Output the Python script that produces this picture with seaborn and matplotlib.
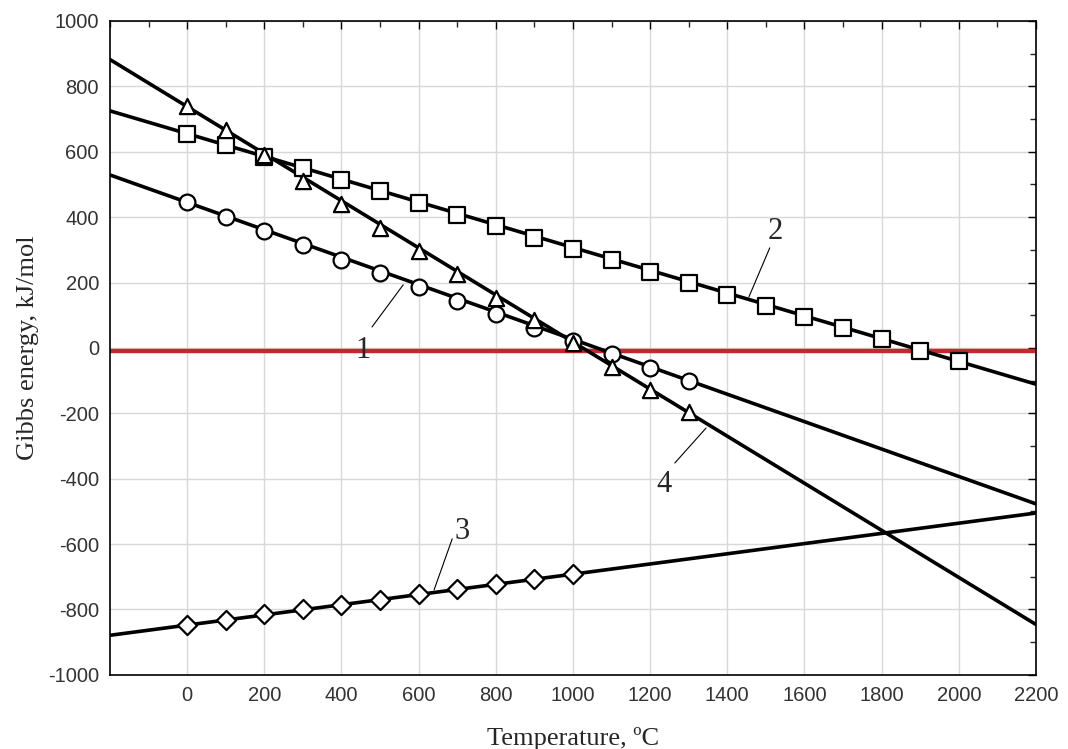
import numpy as np
import pandas as pd
import matplotlib
matplotlib.use("Agg")
import matplotlib.pyplot as plt
from matplotlib.ticker import MultipleLocator
import seaborn as sns

# marker points
t1 = [0, 100, 200, 300, 400, 500, 600, 700, 800, 900, 1000, 1100, 1200, 1300]
g1 = [445, 400, 357, 315, 270, 228, 185, 145, 103, 62, 22, -18, -62, -100]

t2 = [0, 100, 200, 300, 400, 500, 600, 700, 800, 900, 1000,
      1100, 1200, 1300, 1400, 1500, 1600, 1700, 1800, 1900, 2000]
g2 = [655, 620, 585, 550, 515, 480, 443, 408, 372, 337, 303,
      268, 233, 198, 163, 128, 95, 60, 27, -8, -40]

t3 = [0, 100, 200, 300, 400, 500, 600, 700, 800, 900, 1000]
g3 = [-848, -832, -815, -800, -785, -770, -753, -738, -722, -707, -692]

t4 = [0, 100, 200, 300, 400, 500, 600, 700, 800, 900, 1000, 1100, 1200, 1300]
g4 = [740, 665, 590, 510, 440, 368, 297, 225, 152, 85, 15, -57, -128, -197]

# extrapolated straight lines (end points at the axis edges)
line_t = [-200, 2200]
line1 = [529, -477]
line2 = [725, -111]
line3 = [-879, -505]
line4 = [882, -846]
zero_line = [-8, -8]

# curve labels: text position, leader start, leader end
label_names = ["1", "2", "3", "4"]
label_x = [456, 1523, 712, 1236]
label_y = [-8, 355, -563, -419]
lead_x0 = [479, 1456, 640, 1264]
lead_y0 = [64, 156, -740, -352]
lead_x1 = [560, 1510, 687, 1345]
lead_y1 = [193, 306, -584, -245]

sns.set_style("white")
plt.rcParams["font.family"] = ["Liberation Sans", "DejaVu Sans"]
plt.rcParams["axes.unicode_minus"] = False

fig = plt.figure(figsize=(10.68, 7.49), dpi=100)
ax = fig.add_axes([0.103, 0.099, 0.867, 0.873])

ax.grid(True, which="major", color="#d8d8d8", linewidth=1.0, zorder=0)

lw = 2.6
sns.lineplot(x=line_t, y=zero_line, ax=ax, color="#c8252c", linewidth=3.2, zorder=2)
for ly in [line1, line2, line3, line4]:
    sns.lineplot(x=line_t, y=ly, ax=ax, color="black", linewidth=lw, zorder=3)

marker_sets = [(t1, g1, "o", 130), (t2, g2, "s", 120), (t3, g3, "D", 95), (t4, g4, "^", 120)]
for tx, gy, m, s in marker_sets:
    sns.scatterplot(x=tx, y=gy, ax=ax, marker=m, s=s, facecolor="white",
                    edgecolor="black", linewidth=1.6, zorder=4)

for name, tx, ty, x0, y0, x1, y1 in zip(label_names, label_x, label_y,
                                         lead_x0, lead_y0, lead_x1, lead_y1):
    ax.plot([x0, x1], [y0, y1], color="black", linewidth=0.8, zorder=3)
    ax.text(tx, ty, name, fontsize=22, family="Liberation Serif",
            ha="center", va="center", zorder=5)

ax.set_xlim(-200, 2200)
ax.set_ylim(-1000, 1000)
ax.xaxis.set_major_locator(MultipleLocator(200))
ax.xaxis.set_minor_locator(MultipleLocator(100))
ax.yaxis.set_major_locator(MultipleLocator(200))
ax.yaxis.set_minor_locator(MultipleLocator(100))
xt = list(range(0, 2201, 200))
ax.set_xticks(xt)
ax.set_xticklabels([str(v) for v in xt])
ax.tick_params(axis="both", which="major", direction="in", length=6, width=1,
               top=True, right=True, labelsize=14.5, colors="black", labelcolor="#333333", pad=8)
ax.tick_params(axis="both", which="minor", direction="in", length=4, width=1,
               top=True, right=True)
for sp in ax.spines.values():
    sp.set_color("black")
    sp.set_linewidth(1.2)

ax.set_xlabel("Temperature, \u00baC", fontsize=19, family="Liberation Serif", labelpad=16)
ax.set_ylabel("Gibbs energy, kJ/mol", fontsize=19, family="Liberation Serif", labelpad=6)

fig.savefig("out.png", dpi=100)
